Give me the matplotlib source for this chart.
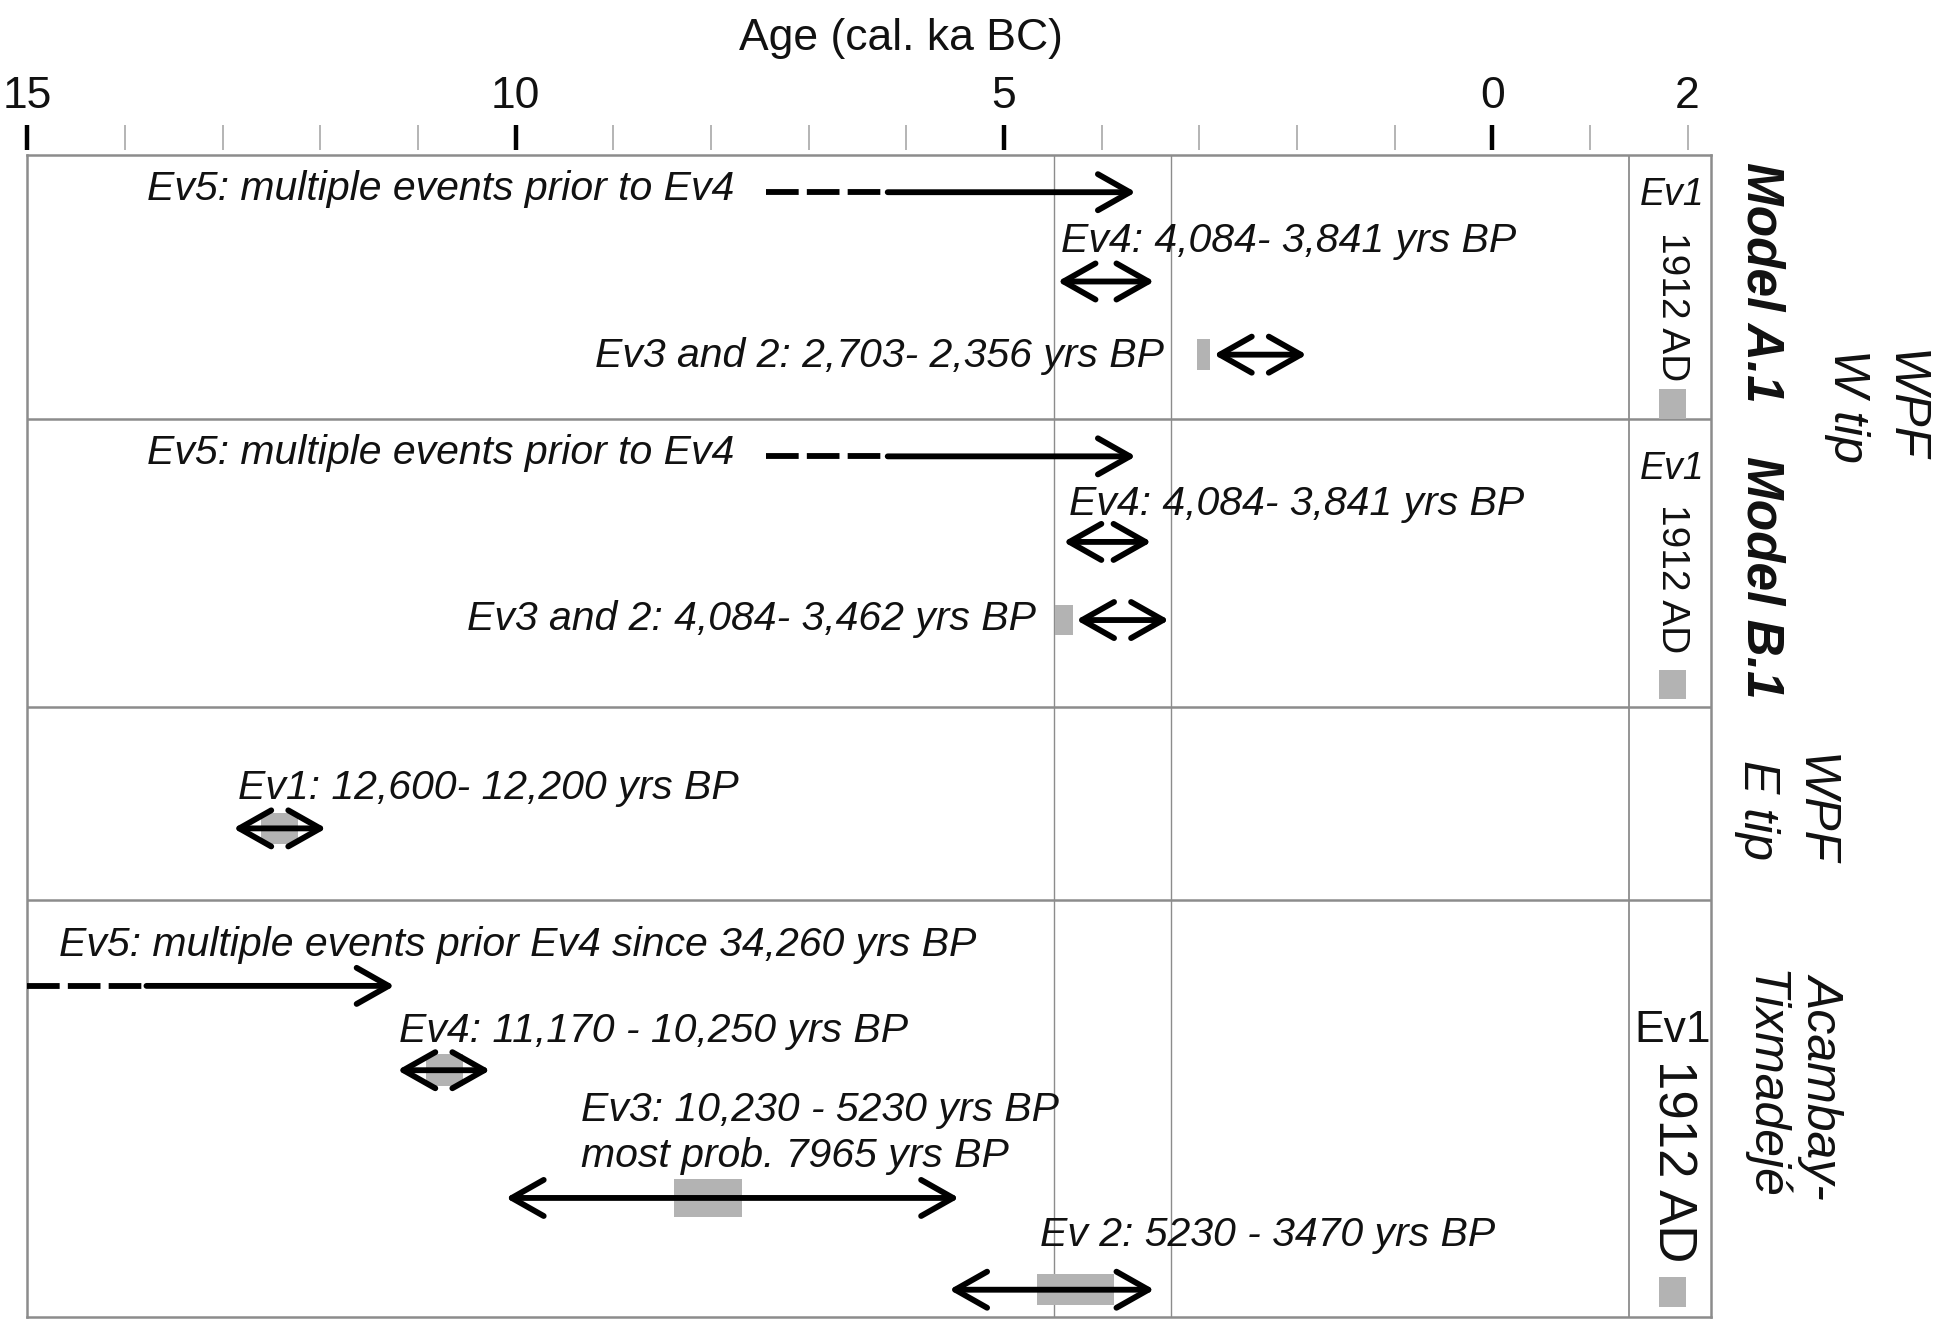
import matplotlib
matplotlib.use('Agg')
import matplotlib.pyplot as plt
from matplotlib.patches import FancyArrowPatch, Rectangle, ArrowStyle
from matplotlib.ticker import FixedLocator, FixedFormatter

plt.rcParams['font.family'] = ['Liberation Sans', 'DejaVu Sans']

# ---------------- data ----------------
axis_title = 'Age (cal. ka BC)'
major_ticks = [15, 10, 5, 0]
major_labels = ['15', '10', '5', '0']
minor_ticks = [14, 13, 12, 11, 9, 8, 7, 6, 4, 3, 2, 1, -1, -2]
minor_labels = [''] * 13 + ['2']
x_left, x_right = 15.0, -2.24
guide_lines = [4.49, 3.29]
ev1_column = -1.40

panel_heights = [213, 232, 156, 336]

# Ev5 single-headed arrows (A.1, B.1, Acambay)
ev5_labels = ['Ev5: multiple events prior to Ev4',
              'Ev5: multiple events prior to Ev4',
              'Ev5: multiple events prior Ev4 since 34,260 yrs BP']
ev5_dash_start = [7.44, 7.44, 15.0]
ev5_solid_start = [6.19, 6.19, 13.78]
ev5_end = [3.65, 3.65, 11.24]

# double-headed range arrows
range_labels = ['Ev4: 4,084- 3,841 yrs BP',
                'Ev3 and 2: 2,703- 2,356 yrs BP',
                'Ev4: 4,084- 3,841 yrs BP',
                'Ev3 and 2: 4,084- 3,462 yrs BP',
                'Ev1: 12,600- 12,200 yrs BP',
                'Ev4: 11,170 - 10,250 yrs BP',
                'Ev3: 10,230 - 5230 yrs BP\nmost prob. 7965 yrs BP',
                'Ev 2: 5230 - 3470 yrs BP']
range_old = [4.45, 2.85, 4.39, 4.26, 12.89, 11.21, 10.10, 5.56]
range_young = [3.46, 1.90, 3.49, 3.31, 11.94, 10.26, 5.46, 3.46]
prob_old = [None, 3.02, None, 4.48, 12.61, 10.92, 8.38, 4.66]
prob_young = [None, 2.89, None, 4.29, 12.23, 10.54, 7.68, 3.87]

ev1_text = ['Ev1', 'Ev1', 'Ev1']
ev1_date = ['1912 AD', '1912 AD', '1912 AD']
ev1_sq_old, ev1_sq_young = -1.71, -1.98

right_labels = ['Model A.1', 'Model B.1']
site_labels = ['WPF\nW tip', 'WPF\nE tip', 'Acambay-\nTixmadejé']

# ---------------- layout (y offsets in panel units, top = 0) ----------------
ev5_arrow_y = [30, 243, 670]
ev5_text_y = [36, 249, 646]
ev5_text_x = [7.76, 7.76, 14.68]
ev5_text_ha = ['right', 'right', 'left']

range_arrow_y = [102, 161, 312, 375, 543, 738, 841, 915]
range_text_y = [78, 171, 290, 383, 519, 715, 779, 880]
range_text_x = [4.42, 3.36, 4.33, 4.67, 12.84, 11.19, 9.33, 4.63]
range_text_ha = ['left', 'right', 'left', 'right', 'left', 'left', 'left', 'left']
prob_h = [0, 25, 0, 24, 25, 26, 30, 25]

ev1_text_y = [32, 253, 706]
ev1_date_y = [122, 342, 811]
ev1_sq_top = [189, 415, 905]
ev1_sq_h = [24, 24, 24]
ev1_italic = [True, True, False]
ev1_text_size = [27, 27, 32]
ev1_date_size = [28, 28, 38]

W, H = 1944, 1323
fig = plt.figure(figsize=(W / 100, H / 100), dpi=100)

fl, fr, ft, fb = 27.3, 1711, 155, 1317
ax = fig.add_axes([fl / W, 1 - fb / H, (fr - fl) / W, (fb - ft) / H])
total = sum(panel_heights)
ax.set_xlim(x_left, x_right)
ax.set_ylim(total, 0)
ax.set_xticks([])
ax.set_yticks([])
frame_col = '#8c8c8c'
for s in ax.spines.values():
    s.set_color(frame_col)
    s.set_linewidth(1.8)

acc = 0
for h in panel_heights[:-1]:
    acc += h
    ax.axhline(acc, color=frame_col, lw=1.8, zorder=1)
for g in guide_lines:
    ax.axvline(g, color=frame_col, lw=1.0, zorder=1)
ax.axvline(ev1_column, color=frame_col, lw=1.3, zorder=1)

lw_arrow = 4.2
txt_size = 29.5
txt_col = '#111111'

# Ev5 arrows
for i in range(len(ev5_labels)):
    y = ev5_arrow_y[i]
    ax.plot([ev5_dash_start[i], ev5_solid_start[i]], [y, y], color='black',
            lw=lw_arrow, dashes=(5.6, 1.4), solid_capstyle='butt', zorder=3)
    arr = FancyArrowPatch((ev5_solid_start[i], y), (ev5_end[i], y),
                          arrowstyle=ArrowStyle('->', head_length=23, head_width=13),
                          mutation_scale=1, lw=lw_arrow, color='black',
                          shrinkA=0, shrinkB=0, zorder=3)
    ax.add_patch(arr)
    ax.text(ev5_text_x[i], ev5_text_y[i], ev5_labels[i], fontsize=txt_size,
            style='italic', ha=ev5_text_ha[i], va='baseline', color=txt_col)

# range arrows
for i in range(len(range_labels)):
    y = range_arrow_y[i]
    if prob_old[i] is not None:
        ax.add_patch(Rectangle((prob_old[i], y - prob_h[i] / 2),
                               prob_young[i] - prob_old[i], prob_h[i],
                               facecolor='#b3b3b3', edgecolor='none', zorder=2))
    arr = FancyArrowPatch((range_old[i], y), (range_young[i], y),
                          arrowstyle=ArrowStyle('<->', head_length=23, head_width=13),
                          mutation_scale=1, lw=lw_arrow, color='black',
                          shrinkA=0, shrinkB=0, zorder=3)
    ax.add_patch(arr)
    for j, line in enumerate(range_labels[i].split('\n')):
        ax.text(range_text_x[i], range_text_y[i] + 37 * j, line, fontsize=txt_size,
                style='italic', ha=range_text_ha[i], va='baseline', color=txt_col)

# Ev1 column
xc = (ev1_sq_old + ev1_sq_young) / 2
for i in range(3):
    ax.text(xc, ev1_text_y[i], ev1_text[i], fontsize=ev1_text_size[i],
            style='italic' if ev1_italic[i] else 'normal', ha='center', va='center',
            color=txt_col)
    ax.text(xc, ev1_date_y[i], ev1_date[i], fontsize=ev1_date_size[i], rotation=270,
            ha='center', va='center', color=txt_col)
    ax.add_patch(Rectangle((ev1_sq_old, ev1_sq_top[i]), ev1_sq_young - ev1_sq_old,
                           ev1_sq_h[i], facecolor='#b3b3b3', edgecolor='none', zorder=2))

# top scale
sc = fig.add_axes([fl / W, 1 - 150 / H, (fr - fl) / W, 25 / H])
sc.set_xlim(x_left, x_right)
sc.set_ylim(0, 1)
sc.patch.set_alpha(0)
for s in sc.spines.values():
    s.set_visible(False)
sc.set_yticks([])
sc.xaxis.set_ticks_position('top')
sc.xaxis.set_label_position('top')
sc.xaxis.set_major_locator(FixedLocator(major_ticks))
sc.xaxis.set_major_formatter(FixedFormatter(major_labels))
sc.xaxis.set_minor_locator(FixedLocator(minor_ticks))
sc.xaxis.set_minor_formatter(FixedFormatter(minor_labels))
sc.tick_params(axis='x', which='major', direction='in', length=18, width=3.2,
               color='black', labelsize=32, pad=6, labelcolor=txt_col)
sc.tick_params(axis='x', which='minor', direction='in', length=18, width=1.1,
               color='#a0a0a0', labelsize=32, pad=6, labelcolor=txt_col)

fig.text(901 / W, 1 - 50 / H, axis_title, fontsize=32, ha='center', va='baseline',
         color=txt_col)

# right labels
fig.text(1761 / W, 1 - 282 / H, right_labels[0], fontsize=37, fontweight='bold',
         style='italic', rotation=270, ha='center', va='center', color=txt_col)
fig.text(1761 / W, 1 - 577 / H, right_labels[1], fontsize=37, fontweight='bold',
         style='italic', rotation=270, ha='center', va='center', color=txt_col)
site_x = [1875, 1785, 1793]
site_y = [406, 810, 1085]
for i in range(3):
    fig.text(site_x[i] / W, 1 - site_y[i] / H, site_labels[i], fontsize=36,
             style='italic', rotation=270, ha='center', va='center',
             linespacing=1.3, color=txt_col)

fig.savefig('out.png', dpi=100)
